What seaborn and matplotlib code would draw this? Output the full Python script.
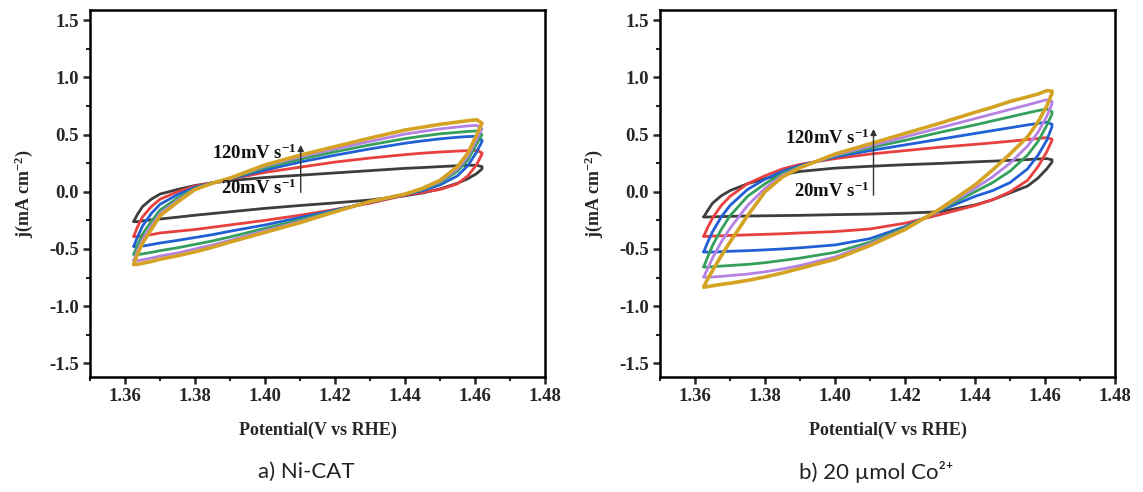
import numpy as np
import pandas as pd
import matplotlib
matplotlib.use("Agg")
import matplotlib.pyplot as plt
import seaborn as sns

# ---------------- data ----------------
E = [1.3625, 1.3635, 1.365, 1.3675, 1.37, 1.375, 1.38, 1.385, 1.39, 1.40,
     1.41, 1.42, 1.43, 1.44, 1.445, 1.45, 1.455, 1.458, 1.4605, 1.462]
rates = ["20", "40", "60", "80", "100", "120"]

# Panel a) Ni-CAT : anodic (upper) and cathodic (lower) branches
a_up_20 = [-0.26, -0.2, -0.13, -0.065, -0.02, 0.02, 0.055, 0.078, 0.097, 0.125,
           0.145, 0.165, 0.185, 0.205, 0.212, 0.22, 0.228, 0.232, 0.232, 0.22]
a_lo_20 = [-0.26, -0.262, -0.255, -0.245, -0.238, -0.222, -0.205, -0.19, -0.175, -0.145,
           -0.12, -0.097, -0.072, -0.035, -0.01, 0.025, 0.075, 0.115, 0.16, 0.2]
a_up_40 = [-0.39, -0.31, -0.22, -0.13, -0.065, 0.0, 0.05, 0.08, 0.11, 0.17,
           0.215, 0.26, 0.295, 0.325, 0.338, 0.348, 0.356, 0.36, 0.362, 0.34]
a_lo_40 = [-0.39, -0.392, -0.385, -0.375, -0.36, -0.345, -0.33, -0.31, -0.29, -0.25,
           -0.205, -0.155, -0.1, -0.03, -0.005, 0.02, 0.07, 0.14, 0.24, 0.33]
a_up_60 = [-0.477, -0.4, -0.3, -0.19, -0.11, -0.025, 0.04, 0.078, 0.112, 0.19,
           0.26, 0.32, 0.375, 0.425, 0.445, 0.463, 0.477, 0.483, 0.486, 0.45]
a_lo_60 = [-0.477, -0.48, -0.475, -0.462, -0.448, -0.425, -0.4, -0.375, -0.345, -0.29,
           -0.225, -0.16, -0.09, -0.025, 0.01, 0.06, 0.14, 0.23, 0.35, 0.44]
a_up_80 = [-0.547, -0.47, -0.37, -0.26, -0.16, -0.055, 0.03, 0.076, 0.115, 0.21,
           0.285, 0.35, 0.41, 0.465, 0.487, 0.507, 0.52, 0.528, 0.532, 0.5]
a_lo_80 = [-0.547, -0.55, -0.543, -0.53, -0.515, -0.49, -0.46, -0.43, -0.395, -0.32,
           -0.245, -0.167, -0.088, -0.022, 0.02, 0.08, 0.18, 0.28, 0.42, 0.5]
a_up_100 = [-0.6, -0.52, -0.42, -0.3, -0.19, -0.075, 0.025, 0.075, 0.118, 0.225,
            0.305, 0.375, 0.44, 0.505, 0.528, 0.55, 0.567, 0.576, 0.582, 0.55]
a_lo_100 = [-0.6, -0.603, -0.595, -0.58, -0.562, -0.535, -0.5, -0.465, -0.425, -0.34,
            -0.26, -0.172, -0.087, -0.02, 0.025, 0.09, 0.2, 0.31, 0.46, 0.55]
a_up_120 = [-0.635, -0.55, -0.45, -0.33, -0.21, -0.09, 0.02, 0.075, 0.12, 0.235,
            0.32, 0.395, 0.47, 0.54, 0.565, 0.59, 0.61, 0.622, 0.63, 0.6]
a_lo_120 = [-0.635, -0.635, -0.625, -0.61, -0.59, -0.56, -0.525, -0.485, -0.44, -0.355,
            -0.27, -0.175, -0.085, -0.02, 0.03, 0.10, 0.22, 0.34, 0.5, 0.6]

# Panel b) 20 umol Co2+
b_up_20 = [-0.22, -0.17, -0.1, -0.035, 0.01, 0.07, 0.115, 0.15, 0.178, 0.207,
           0.223, 0.237, 0.248, 0.262, 0.268, 0.275, 0.282, 0.287, 0.29, 0.28]
b_lo_20 = [-0.22, -0.221, -0.219, -0.217, -0.215, -0.212, -0.21, -0.208, -0.206, -0.2,
           -0.195, -0.187, -0.175, -0.115, -0.07, -0.01, 0.05, 0.12, 0.2, 0.26]
b_up_40 = [-0.389, -0.32, -0.23, -0.12, -0.04, 0.07, 0.14, 0.2, 0.24, 0.29,
           0.33, 0.36, 0.39, 0.415, 0.428, 0.442, 0.457, 0.466, 0.474, 0.46]
b_lo_40 = [-0.389, -0.39, -0.388, -0.385, -0.382, -0.377, -0.372, -0.367, -0.36, -0.348,
           -0.325, -0.275, -0.2, -0.12, -0.07, 0.0, 0.1, 0.22, 0.35, 0.45]
b_up_60 = [-0.526, -0.45, -0.35, -0.22, -0.12, 0.02, 0.11, 0.18, 0.23, 0.305,
           0.36, 0.41, 0.46, 0.51, 0.535, 0.56, 0.585, 0.598, 0.61, 0.59]
b_lo_60 = [-0.526, -0.528, -0.527, -0.524, -0.52, -0.515, -0.508, -0.5, -0.49, -0.465,
           -0.41, -0.305, -0.165, -0.04, 0.01, 0.08, 0.2, 0.32, 0.45, 0.57]
b_up_80 = [-0.657, -0.58, -0.47, -0.33, -0.21, -0.04, 0.07, 0.16, 0.22, 0.315,
           0.385, 0.45, 0.52, 0.585, 0.62, 0.655, 0.69, 0.71, 0.725, 0.7]
b_lo_80 = [-0.657, -0.66, -0.655, -0.65, -0.645, -0.635, -0.62, -0.6, -0.58, -0.53,
           -0.44, -0.315, -0.16, 0.0, 0.08, 0.18, 0.32, 0.44, 0.58, 0.68]
b_up_100 = [-0.745, -0.68, -0.58, -0.44, -0.32, -0.12, 0.03, 0.145, 0.215, 0.32,
            0.4, 0.48, 0.56, 0.64, 0.68, 0.72, 0.76, 0.785, 0.805, 0.79]
b_lo_100 = [-0.745, -0.748, -0.745, -0.74, -0.733, -0.72, -0.7, -0.675, -0.645, -0.57,
            -0.455, -0.325, -0.155, 0.03, 0.13, 0.25, 0.4, 0.52, 0.66, 0.77]
b_up_120 = [-0.833, -0.77, -0.69, -0.56, -0.44, -0.21, 0.0, 0.13, 0.21, 0.33,
            0.42, 0.51, 0.6, 0.695, 0.74, 0.79, 0.83, 0.855, 0.885, 0.88]
b_lo_120 = [-0.833, -0.83, -0.822, -0.81, -0.8, -0.775, -0.745, -0.71, -0.67, -0.59,
            -0.47, -0.33, -0.15, 0.06, 0.19, 0.33, 0.48, 0.61, 0.75, 0.86]

x_ticks = [1.36, 1.38, 1.40, 1.42, 1.44, 1.46, 1.48]
y_ticks = [-1.5, -1.0, -0.5, 0.0, 0.5, 1.0, 1.5]
captions = ["a) Ni-CAT", "b) 20 \u00b5mol Co\u00b2\u207a"]
xlabel = "Potential(V vs RHE)"
ylabel = "j(mA cm$^{-2}$)"
label_hi = "120mV s$^{-1}$"
label_lo = "20mV s$^{-1}$"

colors = ["#3d3d3d", "#e8403f", "#2060d4", "#35a05c", "#b582e4", "#d4a324"]

panels = [
    [(a_up_20, a_lo_20), (a_up_40, a_lo_40), (a_up_60, a_lo_60),
     (a_up_80, a_lo_80), (a_up_100, a_lo_100), (a_up_120, a_lo_120)],
    [(b_up_20, b_lo_20), (b_up_40, b_lo_40), (b_up_60, b_lo_60),
     (b_up_80, b_lo_80), (b_up_100, b_lo_100), (b_up_120, b_lo_120)],
]
# annotation positions (data coords): arrow x, arrow y0, arrow y1, text y hi, text y lo
ann = [(1.4102, -0.005, 0.41, 0.335, 0.03), (1.411, -0.03, 0.55, 0.465, 0.0)]


def loop_frame(branches):
    rows = []
    for rate, (up, lo) in zip(rates, branches):
        xs = list(E) + list(E[::-1])
        ys = list(up) + list(lo[::-1])
        for i, (xv, yv) in enumerate(zip(xs, ys)):
            rows.append({"rate": rate, "order": i, "E": xv, "j": yv})
    return pd.DataFrame(rows)


sns.set_theme(style="white")
plt.rcParams["font.family"] = ["Liberation Serif", "DejaVu Serif"]
plt.rcParams["mathtext.fontset"] = "custom"
plt.rcParams["mathtext.rm"] = "Liberation Serif:bold"
plt.rcParams["mathtext.it"] = "Liberation Serif:bold"
plt.rcParams["mathtext.bf"] = "Liberation Serif:bold"
plt.rcParams["axes.unicode_minus"] = False

fig = plt.figure(figsize=(11.43, 4.92), dpi=100)
lefts = [90 / 1143, 660 / 1143]
for p in range(2):
    ax = fig.add_axes([lefts[p], 1 - 377 / 492, 455 / 1143, 367 / 492])
    df = loop_frame(panels[p])
    for k, rate in enumerate(rates):
        sub = df[df["rate"] == rate]
        sns.lineplot(data=sub, x="E", y="j", sort=False, estimator=None,
                     color=colors[k], lw=(2.6 if rate == "120" else 2.0),
                     ax=ax, legend=False)
    ax.set_xlim(1.35, 1.48)
    ax.set_ylim(-1.62, 1.59)
    ax.set_xticks(x_ticks)
    ax.set_xticklabels([f"{v:.2f}" for v in x_ticks])
    ax.set_yticks(y_ticks)
    ax.set_yticklabels([f"{v:.1f}" for v in y_ticks])
    ax.set_xticks(np.arange(1.35, 1.481, 0.01), minor=True)
    ax.set_yticks(np.arange(-1.5, 1.51, 0.25), minor=True)
    ax.tick_params(which="major", direction="out", length=5, width=1.8,
                   labelsize=13.5, bottom=True, left=True, pad=3)
    ax.tick_params(which="minor", direction="out", length=3, width=1.5,
                   bottom=True, left=True)
    for lab in ax.get_xticklabels() + ax.get_yticklabels():
        lab.set_fontweight("bold")
    for s in ax.spines.values():
        s.set_linewidth(1.8)
        s.set_color("black")
    ax.set_xlabel(xlabel, fontsize=13, fontweight="bold", labelpad=12)
    ax.set_ylabel(ylabel, fontsize=13, fontweight="bold", labelpad=10)

    xa, y0, y1, th, tl = ann[p]
    ax.annotate("", xy=(xa, y1), xytext=(xa, y0),
                arrowprops=dict(arrowstyle="-|>", color="#333333", lw=1.0,
                                mutation_scale=9, shrinkA=0, shrinkB=0))
    ax.text(xa - 0.0012, th, label_hi, ha="right", va="center", fontsize=13.5,
            fontweight="bold", color="#111111")
    ax.text(xa - 0.0012, tl, label_lo, ha="right", va="center", fontsize=13.5,
            fontweight="bold", color="#111111")

    cx = lefts[p] + 0.5 * 455 / 1143 - 0.01
    fig.text(cx, 1 - 472 / 492, captions[p], ha="center", va="center",
             fontsize=16, family=["Lato", "DejaVu Sans"], color="#222222")

fig.savefig("out.png", dpi=100, facecolor="white")
